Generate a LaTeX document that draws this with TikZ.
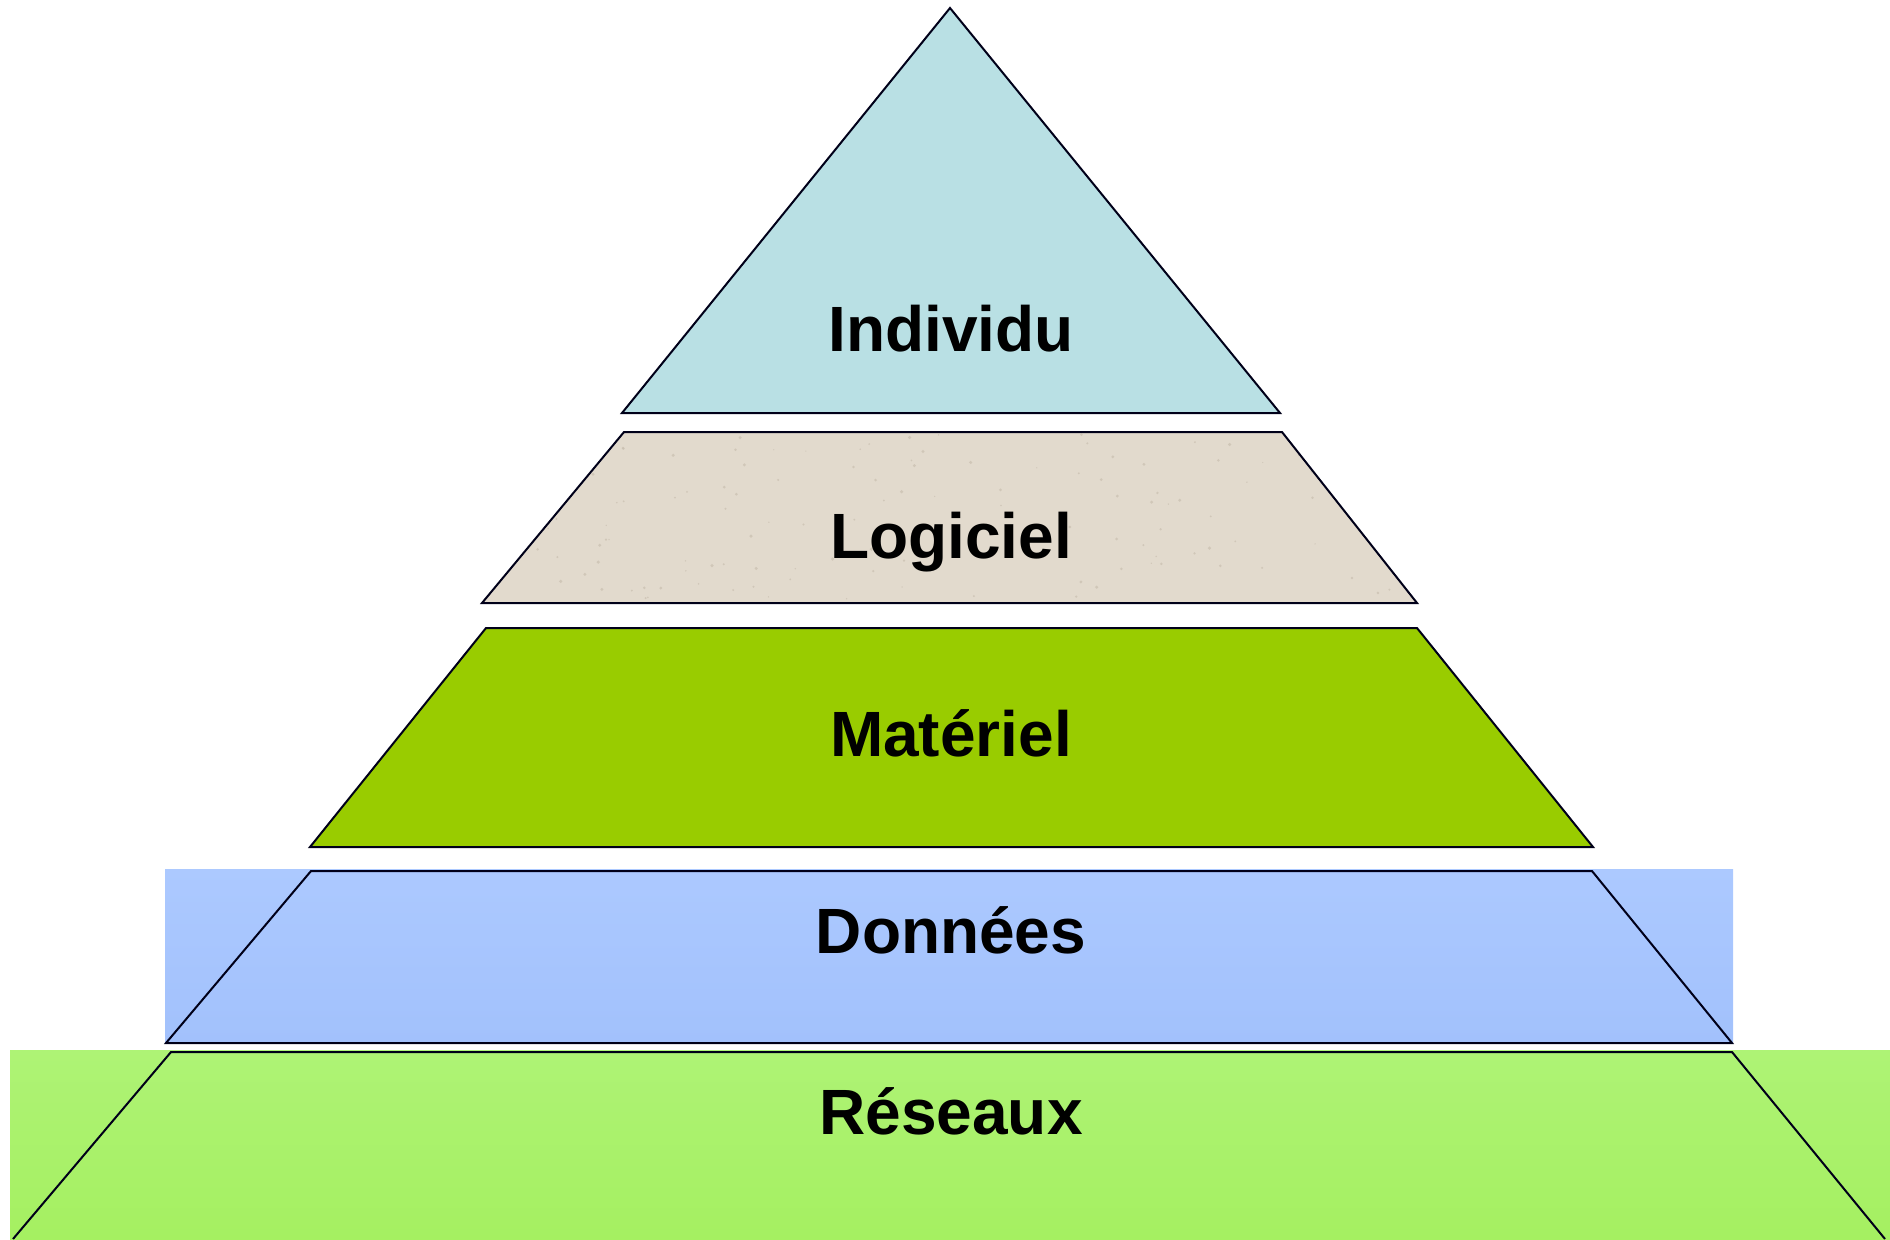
\documentclass[tikz,border=0pt]{standalone}
\usepackage{fontspec}
\setmainfont{Liberation Sans}
\begin{document}
\begin{tikzpicture}[x=0.5pt,y=-0.5pt,
  layer/.style={draw=black!90!blue, line width=1pt, line join=miter},
  label/.style={anchor=base, inner sep=0pt, font=\fontsize{32}{38}\selectfont\bfseries, text=black}]
\useasboundingbox (0,0) rectangle (1890,1239);
\definecolor{cIndividu}{HTML}{B9E0E4}
\definecolor{cLogiciel}{HTML}{E2DACD}
\definecolor{cSpeck}{HTML}{C9BFB0}
\definecolor{cMateriel}{HTML}{99CC00}
\definecolor{cDonTop}{HTML}{ACC9FF}
\definecolor{cDonBot}{HTML}{A2C1FC}
\definecolor{cResTop}{HTML}{AEF375}
\definecolor{cResBot}{HTML}{A5F061}
% background bands
\shade[top color=cDonTop, bottom color=cDonBot] (165,869) rectangle (1733,1043);
\shade[top color=cResTop, bottom color=cResBot] (10,1050) rectangle (1890,1239);
% layers
\draw[layer, fill=cIndividu] (950,8) -- (1280,413) -- (622,413) -- cycle;
\begin{scope}
  \clip (624,432) -- (1282,432) -- (1417,603) -- (482,603) -- cycle;
  \fill[cLogiciel] (482,432) rectangle (1417,603);
  \pgfmathsetseed{7}
  \foreach \i in {1,...,140}{
    \pgfmathsetmacro{\px}{482+935*rnd}
    \pgfmathsetmacro{\py}{432+171*rnd}
    \pgfmathsetmacro{\pr}{0.6+1.2*rnd}
    \fill[cSpeck, opacity=0.7] (\px,\py) circle[radius=\pr];
  }
\end{scope}
\draw[layer] (624,432) -- (1282,432) -- (1417,603) -- (482,603) -- cycle;
\draw[layer, fill=cMateriel] (486,628) -- (1417,628) -- (1593,847) -- (310,847) -- cycle;
\draw[layer] (311,871) -- (1592,871) -- (1732,1043) -- (166,1043) -- cycle;
\draw[layer] (1885,1239) -- (1732,1052) -- (171,1052) -- (13,1239);
% labels
\node[label] (individu) at (951,351) {Individu};
\node[label] (logiciel) at (951,558) {Logiciel};
\node[label] (materiel) at (951,756) {Matériel};
\node[label] (donnees) at (951,953) {Données};
\node[label] (reseaux) at (951,1134) {Réseaux};
\end{tikzpicture}
\end{document}
